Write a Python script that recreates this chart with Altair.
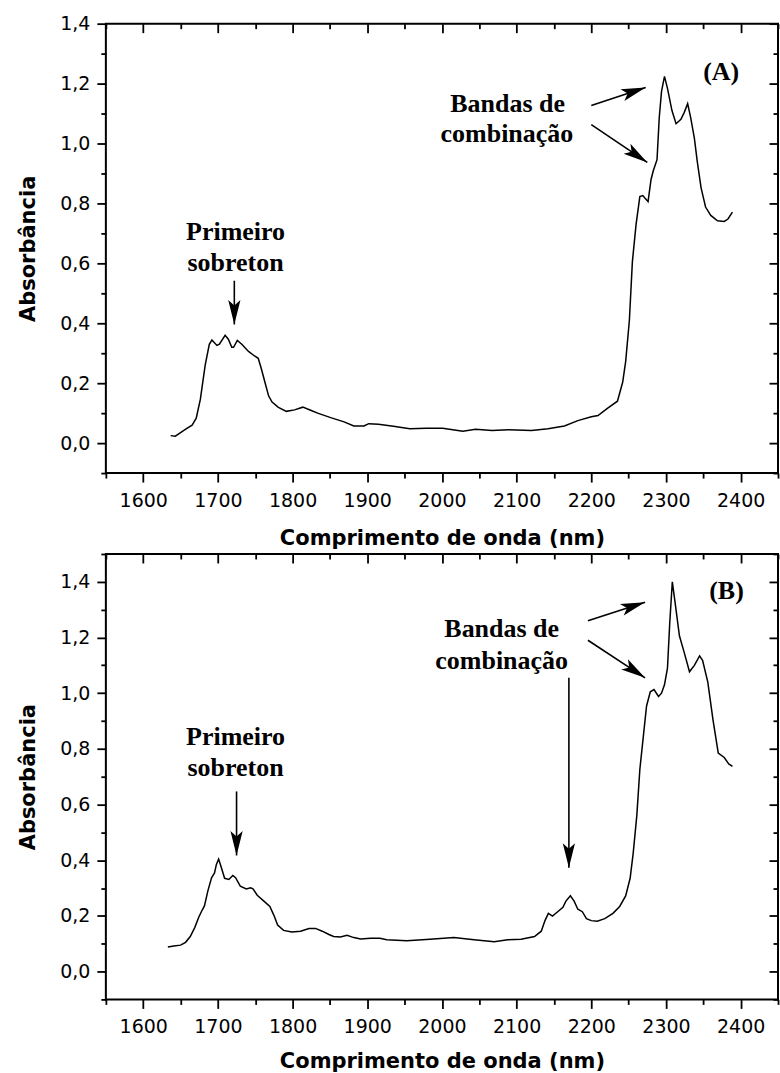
import math
import altair as alt
import pandas as pd

# ---------------- data ----------------
wl_a = [1636.7, 1643, 1651, 1659, 1665.5, 1671, 1676.5, 1683, 1688.5, 1692, 1698.7, 1702,
        1709.7, 1714, 1718.6, 1721, 1726, 1732, 1741, 1749.6, 1754, 1758, 1763, 1768,
        1772.6, 1780.5, 1791.6, 1802.7, 1813.7, 1825, 1833.6, 1851, 1869, 1882, 1895.6,
        1902, 1915, 1935, 1957, 1979, 2001, 2028, 2045, 2067, 2089, 2120, 2142, 2164,
        2182, 2200, 2209, 2222, 2235, 2242, 2246, 2251, 2255, 2260, 2265, 2269, 2272,
        2276, 2280, 2283, 2288, 2291, 2294, 2298, 2302, 2308, 2313.5, 2320, 2324.5,
        2329, 2333, 2338, 2342, 2347, 2353, 2360, 2369, 2378, 2383, 2389]
abs_a = [0.025, 0.023, 0.037, 0.05, 0.06, 0.083, 0.146, 0.26, 0.33, 0.344, 0.326, 0.33,
         0.36, 0.347, 0.32, 0.32, 0.343, 0.33, 0.306, 0.29, 0.283, 0.25, 0.203, 0.157,
         0.137, 0.12, 0.106, 0.111, 0.12, 0.109, 0.1, 0.085, 0.071, 0.057, 0.057,
         0.065, 0.063, 0.056, 0.048, 0.05, 0.05, 0.04, 0.046, 0.042, 0.045, 0.042, 0.048, 0.057,
         0.075, 0.088, 0.092, 0.117, 0.14, 0.203, 0.272, 0.41, 0.605, 0.731, 0.823, 0.826, 0.817,
         0.806, 0.88, 0.909, 0.946, 1.087, 1.173, 1.224, 1.184, 1.11, 1.066, 1.081, 1.104,
         1.133, 1.087, 1.018, 0.938, 0.852, 0.788, 0.76, 0.742, 0.74, 0.748, 0.771]

wl_b = [1633, 1641, 1650, 1656.7, 1663, 1669, 1674.5, 1679, 1682, 1686.6, 1691.5, 1695.5,
        1698, 1701, 1704.5, 1709, 1714.7, 1720, 1723.7, 1730, 1738, 1743.8, 1747, 1752.7,
        1761.6, 1769.6, 1775, 1780, 1788, 1799, 1810.7, 1822, 1830.8, 1839.7, 1848.7, 1855,
        1864, 1873, 1882, 1891, 1904.5, 1917, 1926, 1953, 1984, 2016, 2043, 2070, 2088,
        2106, 2124, 2133, 2138, 2142.5, 2148, 2155, 2162, 2166, 2172, 2177, 2182, 2188,
        2193.5, 2200, 2208, 2218, 2229, 2238, 2246, 2252, 2256, 2261, 2265, 2270, 2274,
        2279, 2284, 2290, 2294, 2298, 2302, 2305, 2308.5, 2312, 2318, 2324, 2331.5, 2338,
        2345, 2349, 2356, 2363, 2370, 2378, 2384, 2389]
abs_b = [0.088, 0.092, 0.095, 0.105, 0.126, 0.158, 0.196, 0.221, 0.236, 0.29, 0.337, 0.354,
         0.385, 0.404, 0.375, 0.335, 0.331, 0.345, 0.337, 0.307, 0.297, 0.301, 0.297, 0.274,
         0.253, 0.234, 0.202, 0.167, 0.148, 0.142, 0.145, 0.155, 0.155, 0.145, 0.133, 0.126,
         0.124, 0.13, 0.122, 0.117, 0.12, 0.12, 0.114, 0.111, 0.116, 0.122, 0.114, 0.107, 0.114,
         0.116, 0.126, 0.145, 0.183, 0.209, 0.199, 0.215, 0.231, 0.253, 0.272, 0.253, 0.224, 0.215,
         0.19, 0.183, 0.181, 0.19, 0.209, 0.234, 0.272, 0.335, 0.423, 0.562, 0.726, 0.853, 0.954,
         1.005, 1.013, 0.988, 1.0, 1.03, 1.09, 1.25, 1.40, 1.33, 1.206, 1.15, 1.077, 1.1,
         1.134, 1.118, 1.04, 0.903, 0.785, 0.769, 0.746, 0.737]

x_major = [1600, 1700, 1800, 1900, 2000, 2100, 2200, 2300, 2400]
x_minor = [1550, 1650, 1750, 1850, 1950, 2050, 2150, 2250, 2350, 2450]
y_major = [0.0, 0.2, 0.4, 0.6, 0.8, 1.0, 1.2, 1.4]
y_minor_a = [-0.1, 0.1, 0.3, 0.5, 0.7, 0.9, 1.1, 1.3]
y_minor_b = [-0.1, 0.1, 0.3, 0.5, 0.7, 0.9, 1.1, 1.3, 1.5]

# annotations (data coordinates)
txt_a = ["Primeiro", "sobreton", "Bandas de", "combinação", "(A)"]
txt_a_x = [1723.7, 1723.7, 2088, 2087, 2374]
txt_a_y = [0.679, 0.575, 1.104, 1.006, 1.213]
arr_a_x0 = [1722, 2200, 2200]
arr_a_y0 = [0.542, 1.127, 1.063]
arr_a_x1 = [1722, 2272.8, 2275]
arr_a_y1 = [0.396, 1.187, 0.937]

txt_b = ["Primeiro", "sobreton", "Bandas de", "combinação", "(B)"]
txt_b_x = [1723.7, 1723.7, 2080, 2080, 2381]
txt_b_y = [0.815, 0.704, 1.2, 1.087, 1.34]
arr_b_x0 = [1725, 2195.5, 2195.5, 2170]
arr_b_y0 = [0.647, 1.26, 1.19, 1.055]
arr_b_x1 = [1725, 2272, 2272, 2170]
arr_b_y1 = [0.417, 1.327, 1.055, 0.373]

# ---------------- layout ----------------
W = 673
H_A = 450
H_B = 446
X_DOM = [1550, 2450]
Y_DOM_A = [-0.1, 1.4]
Y_DOM_B = [-0.1, 1.5]

HEAD = "M0,0 L0.5,2 L0,1.55 L-0.5,2 Z"
LAB = "replace(format(datum.value, '.1f'), '.', ',')"
SANS = "DejaVu Sans"
SERIF = "Liberation Serif"


def panel(wl, ab, ydom, h, ymin, tx, ttx, tty, ax0, ay0, ax1, ay1, xtitle_pad):
    sx = W / (X_DOM[1] - X_DOM[0])
    sy = h / (ydom[1] - ydom[0])
    ang = [(math.degrees(math.atan2((b - a) * sx, (d - c) * sy)) + 360) % 360
           for a, b, c, d in zip(ax0, ax1, ay0, ay1)]
    df = pd.DataFrame({"wl": wl, "ab": ab})
    tdf = pd.DataFrame({"t": tx, "x": ttx, "y": tty})
    adf = pd.DataFrame({"x0": ax0, "y0": ay0, "x1": ax1, "y1": ay1, "ang": ang})
    xs = alt.Scale(domain=X_DOM, nice=False, zero=False)
    ys = alt.Scale(domain=ydom, nice=False, zero=False)

    common = dict(domain=False, grid=False, tickColor="black", tickWidth=1.8)

    line = alt.Chart(df).mark_line(color="black", strokeWidth=1.5).encode(
        x=alt.X("wl:Q", scale=xs, axis=alt.Axis(
            orient="bottom", values=x_major, tickSize=9, format="d",
            labelFont=SANS, labelFontSize=19, labelColor="black", labelPadding=9,
            title="Comprimento de onda (nm)", titleFont=SANS, titleFontSize=21,
            titleFontWeight="bold", titleColor="black", titlePadding=xtitle_pad,
            **common)),
        y=alt.Y("ab:Q", scale=ys, axis=alt.Axis(
            orient="left", values=y_major, tickSize=9, labelExpr=LAB,
            labelFont=SANS, labelFontSize=19, labelColor="black", labelPadding=7,
            title="Absorbância", titleFont=SANS, titleFontSize=21,
            titleFontWeight="bold", titleColor="black", titlePadding=21,
            **common)),
    )
    text = alt.Chart(tdf).mark_text(
        font=SERIF, fontWeight="bold", fontSize=26, color="black",
        align="center", baseline="alphabetic").encode(
        x=alt.X("x:Q", scale=xs, axis=alt.Axis(
            orient="bottom", values=x_minor, tickSize=5, labels=False, title=None, **common)),
        y=alt.Y("y:Q", scale=ys, axis=alt.Axis(
            orient="left", values=ymin, tickSize=5, labels=False, title=None, **common)),
        text="t:N",
    )
    shafts = alt.Chart(adf).mark_rule(color="black", strokeWidth=1.6).encode(
        x=alt.X("x0:Q", scale=xs, axis=alt.Axis(
            orient="top", values=x_major, tickSize=9, offset=-9, labels=False, title=None, **common)),
        y=alt.Y("y0:Q", scale=ys, axis=alt.Axis(
            orient="right", values=y_major, tickSize=9, offset=-9, labels=False, title=None, **common)),
        x2="x1:Q", y2="y1:Q",
    )
    heads = alt.Chart(adf).mark_point(
        filled=True, shape=HEAD, size=600, color="black", opacity=1, strokeWidth=0).encode(
        x=alt.X("x1:Q", scale=xs, axis=alt.Axis(
            orient="top", values=x_minor, tickSize=5, offset=-5, labels=False, title=None, **common)),
        y=alt.Y("y1:Q", scale=ys, axis=alt.Axis(
            orient="right", values=ymin, tickSize=5, offset=-5, labels=False, title=None, **common)),
        angle=alt.Angle("ang:Q", scale=None),
    )
    return alt.layer(line, text, shafts, heads).resolve_axis(
        x="independent", y="independent").properties(width=W, height=h)


pa = panel(wl_a, abs_a, Y_DOM_A, H_A, y_minor_a, txt_a, txt_a_x, txt_a_y,
           arr_a_x0, arr_a_y0, arr_a_x1, arr_a_y1, 18)
pb = panel(wl_b, abs_b, Y_DOM_B, H_B, y_minor_b, txt_b, txt_b_x, txt_b_y,
           arr_b_x0, arr_b_y0, arr_b_x1, arr_b_y1, 14)

chart = alt.vconcat(pa, pb, spacing=2).properties(
    padding={"left": 16, "top": 13, "right": 0, "bottom": 0},
    background="white",
).configure_view(stroke="black", strokeWidth=2)

chart.save("out.html", embed_options={"renderer": "svg", "actions": False})
